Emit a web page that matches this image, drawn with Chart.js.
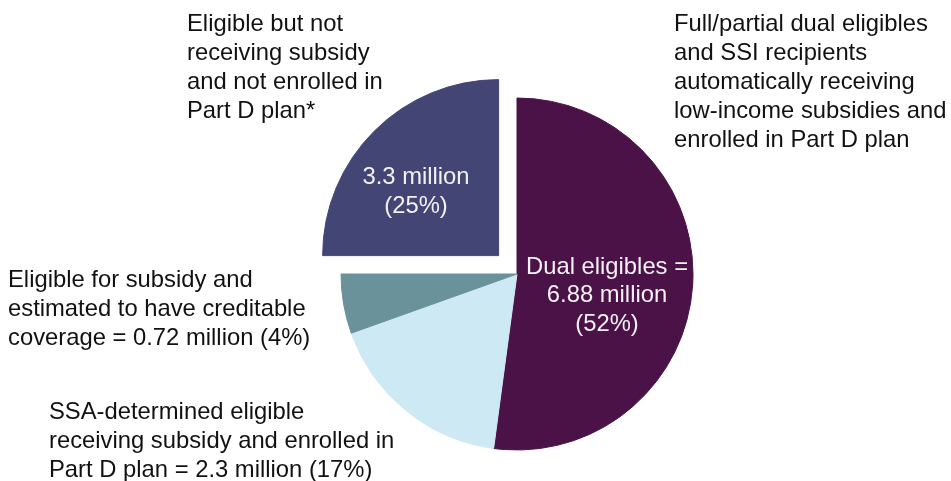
<!DOCTYPE html>
<html>
<head>
<meta charset="utf-8">
<title>Part D low-income subsidy</title>
<script src="https://cdn.jsdelivr.net/npm/chart.js@4.4.1/dist/chart.umd.min.js"></script>
<style>
  html, body { margin: 0; padding: 0; background: #fff; }
  #wrap { width: 951px; height: 481px; }
</style>
</head>
<body>
<div id="wrap"><canvas id="lisChart" width="951" height="481"></canvas></div>
<script>
// slices, clockwise from 12 o'clock (millions of beneficiaries)
const categories = ['Dual eligibles', 'SSA-determined eligible', 'Creditable coverage', 'Not receiving subsidy'];
const values = [6.88, 2.3, 0.72, 3.3];
const sliceColors = ['#4a1247', '#cde9f3', '#6a929a', '#434574'];
const explode = [0, 0, 0, 104];

// text inside the slices
const insideText = [
    ['Dual eligibles =', '6.88 million', '(52%)'],
    null,
    null,
    ['3.3 million', '(25%)']
];

// callout text around the pie
const calloutText = [
    ['Full/partial dual eligibles', 'and SSI recipients', 'automatically receiving', 'low-income subsidies and', 'enrolled in Part D plan'],
    ['SSA-determined eligible', 'receiving subsidy and enrolled in', 'Part D plan = 2.3 million (17%)'],
    ['Eligible for subsidy and', 'estimated to have creditable', 'coverage = 0.72 million (4%)'],
    ['Eligible but not', 'receiving subsidy', 'and not enrolled in', 'Part D plan*']
];

const FONT = '23.8px "Liberation Sans", Arial, sans-serif';
const LINE = 29;

// where each block of text sits (first baseline)
const calloutPos = [
    { x: 674, y: 31 },
    { x: 49, y: 419 },
    { x: 8, y: 287 },
    { x: 187, y: 30.5 }
];
const insidePos = [
    { x: 607, y: 273.5 },
    null,
    null,
    { x: 416, y: 184 }
];

const textPlugin = {
    id: 'pieText',
    afterDraw(chart) {
        const ctx = chart.ctx;
        ctx.save();
        ctx.font = FONT;
        ctx.textBaseline = 'alphabetic';

        ctx.fillStyle = '#111';
        ctx.textAlign = 'left';
        calloutText.forEach((lines, i) => {
            lines.forEach((t, j) => ctx.fillText(t, calloutPos[i].x, calloutPos[i].y + j * LINE));
        });

        ctx.fillStyle = '#f4f0f4';
        ctx.textAlign = 'center';
        insideText.forEach((lines, i) => {
            if (!lines) return;
            lines.forEach((t, j) => ctx.fillText(t, insidePos[i].x, insidePos[i].y + j * (LINE - 0.5)));
        });
        ctx.restore();
    }
};

function initChart() {
    const ctx = document.getElementById('lisChart').getContext('2d');
    new Chart(ctx, {
        type: 'pie',
        data: {
            labels: categories,
            datasets: [{
                data: values,
                backgroundColor: sliceColors,
                borderColor: sliceColors,
                borderWidth: 1,
                offset: explode,
                hoverOffset: 0
            }]
        },
        options: {
            responsive: false,
            animation: false,
            devicePixelRatio: 1,
            events: [],
            radius: 176,
            layout: { padding: { top: 67, bottom: 0, left: 83, right: 0 } },
            plugins: {
                legend: { display: false },
                tooltip: { enabled: false },
                title: { display: false }
            }
        },
        plugins: [textPlugin]
    });
}

document.addEventListener('DOMContentLoaded', initChart);
</script>
</body>
</html>
